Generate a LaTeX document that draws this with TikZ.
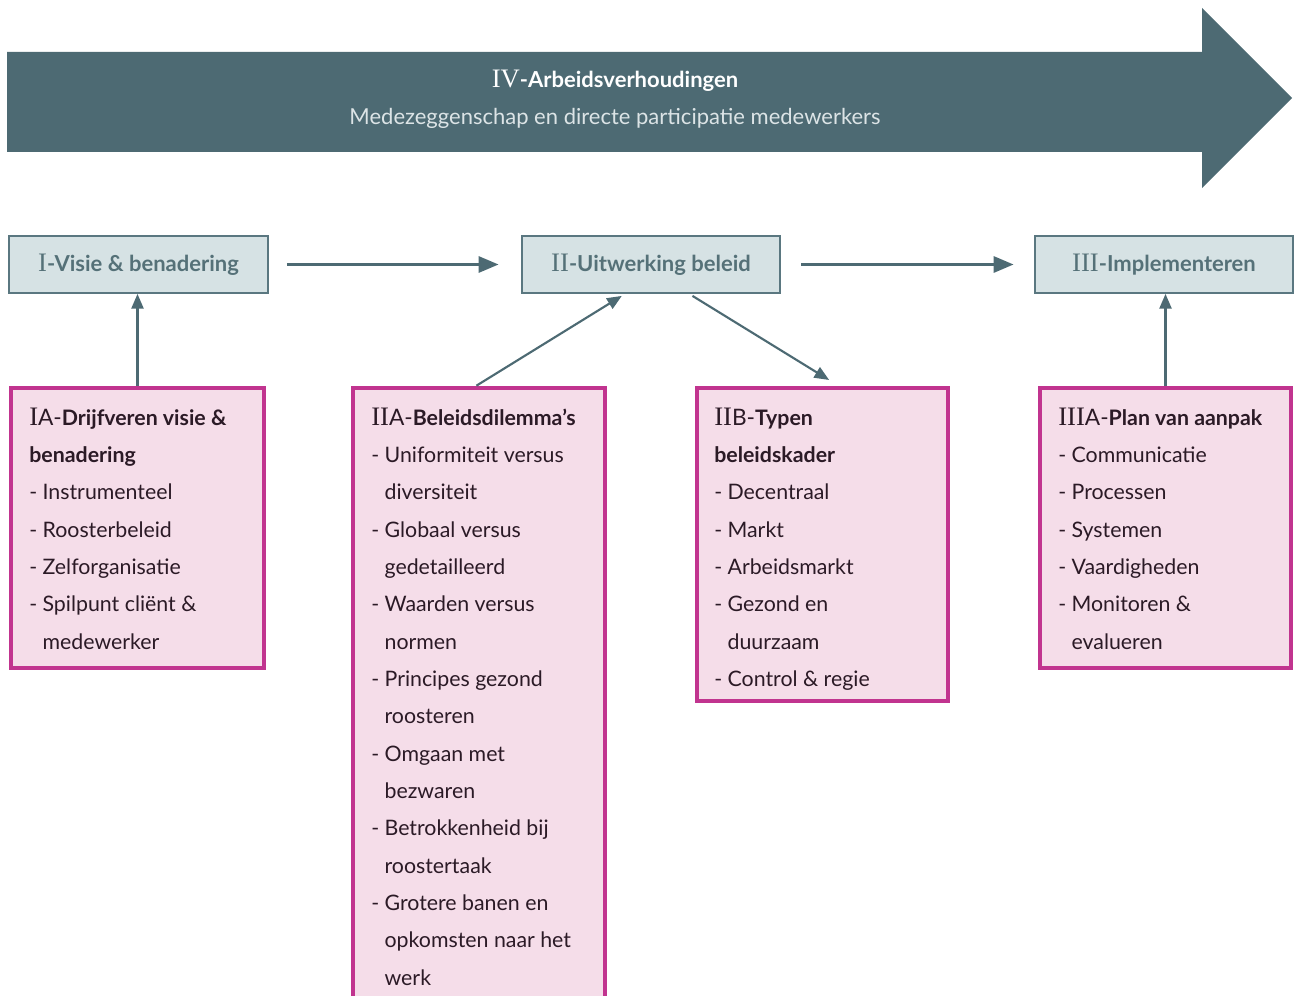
\documentclass[tikz,border=0pt]{standalone}
\usepackage{fontspec}
\setmainfont{Lato}
\newfontfamily\romfont{Liberation Serif}
\usetikzlibrary{arrows.meta,calc}
\definecolor{tealdark}{HTML}{4D6A73}
\definecolor{boxfill}{HTML}{D6E2E4}
\definecolor{boxline}{HTML}{5A7780}
\definecolor{boxtext}{HTML}{557178}
\definecolor{pinkfill}{HTML}{F5DDE9}
\definecolor{pinkline}{HTML}{C1348F}
\definecolor{ink}{HTML}{2B1A26}
\definecolor{subtext}{HTML}{DCE4E6}
\newcommand{\itm}{\makebox[10pt][l]{-}}
\newcommand{\cnt}{\hspace*{10pt}}
\newcommand{\rn}[1]{{\romfont\mdseries\fontsize{20pt}{20pt}\selectfont #1}}
\newcommand{\hd}[1]{{\fontsize{17pt}{20pt}\selectfont #1}}
\newcommand{\hb}[1]{{\fontsize{16pt}{20pt}\selectfont\bfseries #1}}
\newenvironment{txt}{\begin{minipage}[t]{220pt}\raggedright}{\end{minipage}}
\begin{document}
\begin{tikzpicture}[x=0.75pt,y=-0.75pt,
  topbox/.style={draw=boxline,line width=1.6pt,fill=boxfill,minimum width=194pt,minimum height=42.5pt,inner sep=0pt,
    text=boxtext,font=\fontsize{16.5pt}{18pt}\selectfont\bfseries},
  pinkbox/.style={draw=pinkline,line width=3pt,fill=pinkfill,inner sep=0pt},
  body/.style={anchor=base west,inner sep=0pt,text=ink,font=\fontsize{16pt}{28pt}\selectfont},
  conn/.style={draw=tealdark,line width=2.3pt,-{Triangle[length=15pt,width=12pt]}},
  conns/.style={draw=tealdark,line width=1.6pt,-{Triangle[length=11pt,width=9pt]}}
]
\useasboundingbox (0,0) rectangle (1294,995);
\clip (0,0) rectangle (1294,995);
% big arrow
\fill[tealdark] (7,52) -- (1202,52) -- (1202,8) -- (1292,98) -- (1202,188) -- (1202,152) -- (7,152) -- cycle;
\node[text=white,inner sep=0pt,anchor=base] (hdr) at (615,88) {\rn{IV}{\fontsize{16.5pt}{18pt}\selectfont\bfseries -Arbeidsverhoudingen}};
\node[text=subtext,inner sep=0pt,anchor=base] (sub) at (615,125) {\fontsize{16.5pt}{18pt}\selectfont Medezeggenschap en directe participatie medewerkers};
% top boxes
\node[topbox] (I) at (138.5,264.5) {\rn{I}-Visie \& benadering};
\node[topbox] (II) at (651,264.5) {\rn{II}-Uitwerking beleid};
\node[topbox] (III) at (1164,264.5) {\rn{III}-Implementeren};
% pink boxes
\node[pinkbox,minimum width=189.75pt,minimum height=210pt] (IA) at (137.5,528) {};
\node[pinkbox,minimum width=189pt,minimum height=470pt] (IIA) at (479,701) {};
\node[pinkbox,minimum width=188.25pt,minimum height=234.75pt] (IIB) at (822.5,544.5) {};
\node[pinkbox,minimum width=188.25pt,minimum height=210pt] (IIIA) at (1165.5,528) {};
% texts
\node[body] (tIA) at (29,425) {\begin{txt}\rn{I}\hd{A-}\hb{Drijfveren visie \&}\\
\hb{benadering}\\
\itm Instrumenteel\\
\itm Roosterbeleid\\
\itm Zelforganisatie\\
\itm Spilpunt cliënt \&\\
\cnt medewerker\end{txt}};
\node[body] (tIIA) at (371,425) {\begin{txt}\rn{II}\hd{A-}\hb{Beleidsdilemma’s}\\
\itm Uniformiteit versus\\
\cnt diversiteit\\
\itm Globaal versus\\
\cnt gedetailleerd\\
\itm Waarden versus\\
\cnt normen\\
\itm Principes gezond\\
\cnt roosteren\\
\itm Omgaan met\\
\cnt bezwaren\\
\itm Betrokkenheid bij\\
\cnt roostertaak\\
\itm Grotere banen en\\
\cnt opkomsten naar het\\
\cnt werk\end{txt}};
\node[body] (tIIB) at (714,425) {\begin{txt}\rn{II}\hd{B-}\hb{Typen}\\
\hb{beleidskader}\\
\itm Decentraal\\
\itm Markt\\
\itm Arbeidsmarkt\\
\itm Gezond en\\
\cnt duurzaam\\
\itm Control \& regie\end{txt}};
\node[body] (tIIIA) at (1058,425) {\begin{txt}\rn{III}\hd{A-}\hb{Plan van aanpak}\\
\itm Communicatie\\
\itm Processen\\
\itm Systemen\\
\itm Vaardigheden\\
\itm Monitoren \&\\
\cnt evalueren\end{txt}};
% connectors
\draw[conn,shorten <=13.5pt,shorten >=16.5pt] (I.east) -- (II.west);
\draw[conn,shorten <=15pt,shorten >=15pt] (II.east) -- (III.west);
\draw[conns] (IA.north) -- (IA.north |- I.south);
\draw[conns] (IIIA.north) -- (IIIA.north |- III.south);
\draw[conns] ($(IIA.north west)!0.49!(IIA.north east)$) -- ($(II.south west)!0.388!(II.south east)+(0,2)$);
\draw[conns] ($(II.south west)!0.659!(II.south east)+(0,2)$) -- ($(IIB.north west)!0.526!(IIB.north east)+(0,-6)$);
\end{tikzpicture}
\end{document}
